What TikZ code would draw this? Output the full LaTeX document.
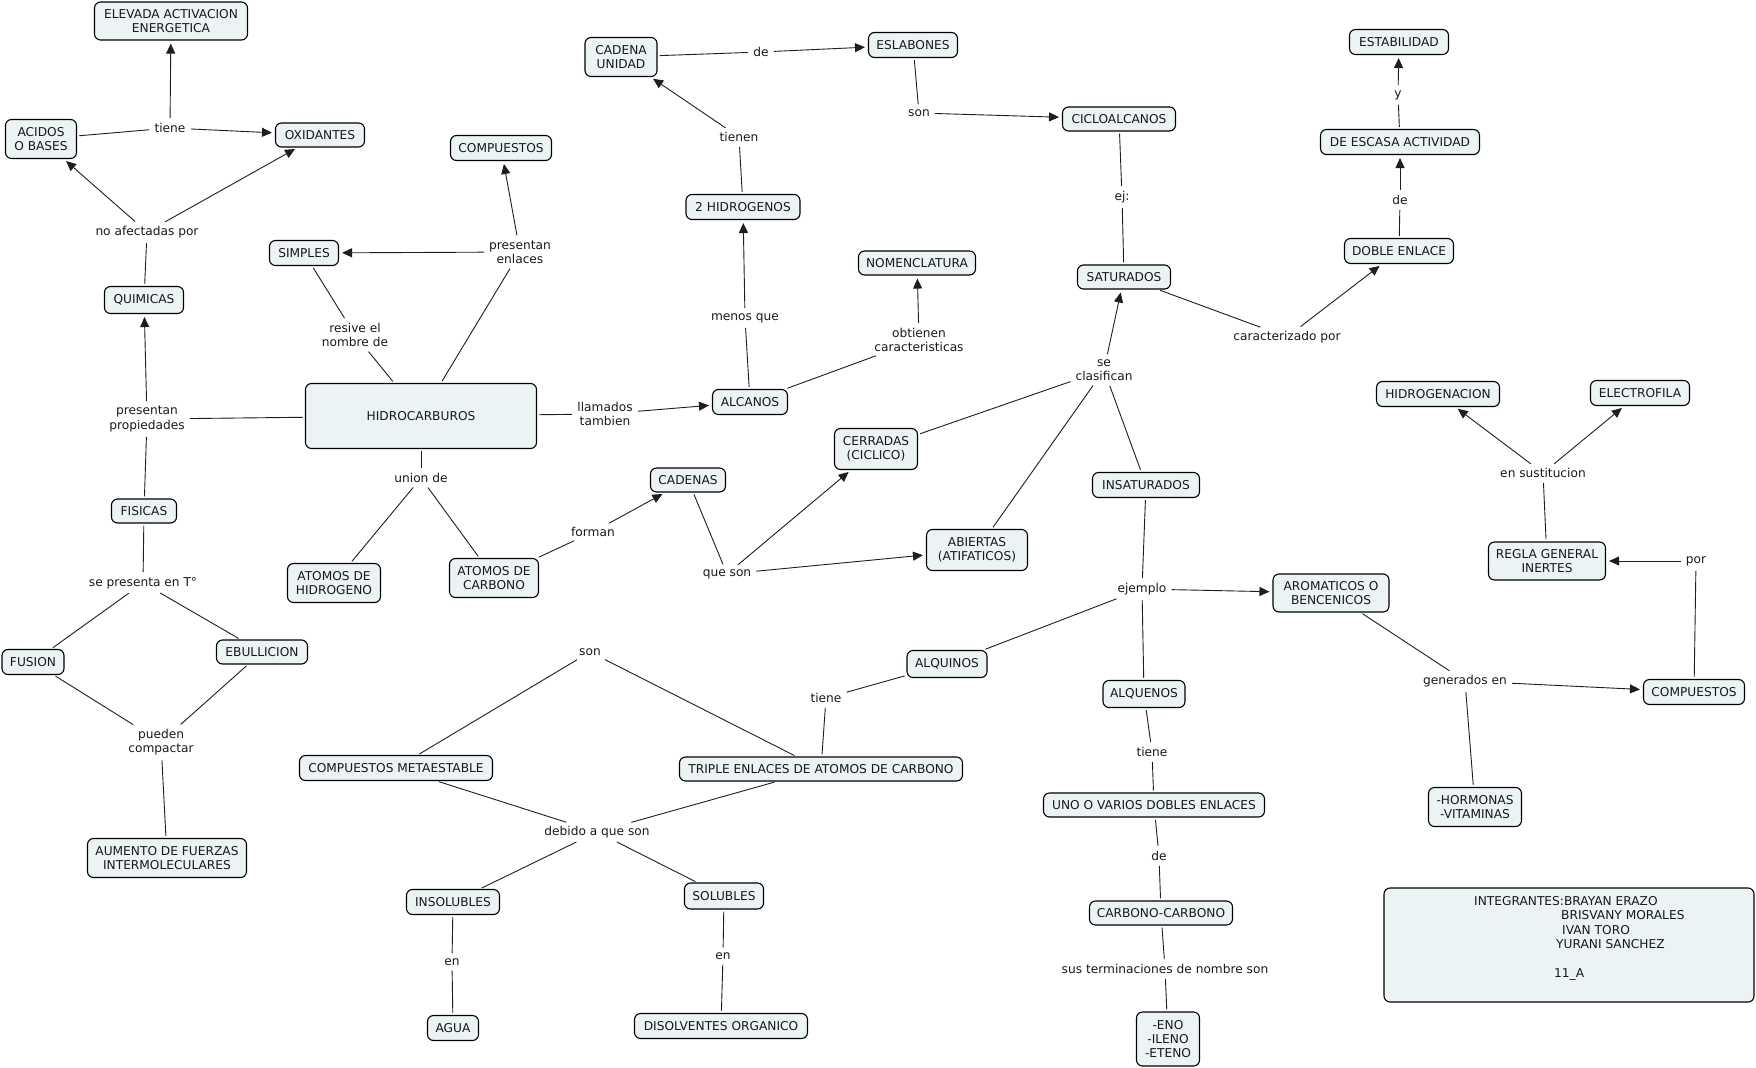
\documentclass[tikz,border=0pt]{standalone}
\usepackage{fontspec}
\setmainfont{DejaVu Sans}
\usetikzlibrary{arrows.meta}
\definecolor{cfill}{RGB}{236,243,245}
\definecolor{lnc}{RGB}{30,30,30}
\newcommand\cnode[5]{\node[cn, minimum width=#3, minimum height=#4] (#1) at #2 {#5};}
\newcommand\lnode[3]{\node[lk] (#1) at #2 {#3};}
\begin{document}
\begin{tikzpicture}[x=1pt,y=-1pt,
  every node/.style={font=\fontsize{12.2}{14.4}\selectfont, text=black!90},
  cn/.style={draw=black, fill=cfill, rounded corners=6pt, line width=1.1pt, align=center, inner sep=0pt},
  lk/.style={fill=white, align=center, inner sep=3pt},
  ln/.style={draw=lnc, line width=0.9pt, shorten <=2pt, shorten >=2pt},
  ar/.style={ln, -{Triangle[length=10pt,width=9pt]}, shorten >=3pt},
]
\useasboundingbox (0,0) rectangle (1756,1068);
\fill[white] (0,0) rectangle (1756,1068);

% concepts
\cnode{elev}{(171,21)}{153}{38}{ELEVADA ACTIVACION\\ENERGETICA}
\cnode{acid}{(41,139)}{71}{39}{ACIDOS\\O BASES}
\cnode{oxid}{(320,135)}{89}{24}{OXIDANTES}
\cnode{quim}{(144,300)}{79}{27}{QUIMICAS}
\cnode{simp}{(304,253)}{69}{25}{SIMPLES}
\cnode{compa}{(501,148)}{101}{25}{COMPUESTOS}
\cnode{cad}{(621,57)}{72}{39}{CADENA\\UNIDAD}
\cnode{esl}{(913,45)}{89}{25}{ESLABONES}
\cnode{hidb}{(743,207)}{114}{25}{2 HIDROGENOS}
\cnode{nom}{(917,263)}{117}{24}{NOMENCLATURA}
\cnode{ciclo}{(1119,119)}{113}{24}{CICLOALCANOS}
\cnode{sat}{(1124,277)}{93}{24}{SATURADOS}
\cnode{estab}{(1399,42)}{99}{25}{ESTABILIDAD}
\cnode{escasa}{(1400,142)}{159}{25}{DE ESCASA ACTIVIDAD}
\cnode{doble}{(1399,251)}{109}{25}{DOBLE ENLACE}
\cnode{hidro}{(421,416)}{231}{65}{HIDROCARBUROS}
\cnode{fis}{(144,511)}{65}{24}{FISICAS}
\cnode{atH}{(334,583)}{93}{39}{ATOMOS DE\\HIDROGENO}
\cnode{fus}{(33,662)}{62}{25}{FUSION}
\cnode{ebu}{(262,652)}{91}{24}{EBULLICION}
\cnode{alc}{(750,402)}{75}{25}{ALCANOS}
\cnode{cerr}{(876,449)}{83}{41}{CERRADAS\\(CICLICO)}
\cnode{cadenas}{(688,480)}{75}{24}{CADENAS}
\cnode{atC}{(494,578)}{89}{39}{ATOMOS DE\\CARBONO}
\cnode{insat}{(1146,485)}{107}{25}{INSATURADOS}
\cnode{abie}{(977,550)}{101}{41}{ABIERTAS\\(ATIFATICOS)}
\cnode{arom}{(1331,593)}{116}{38}{AROMATICOS O\\BENCENICOS}
\cnode{alqui}{(947,664)}{80}{27}{ALQUINOS}
\cnode{alque}{(1144,694)}{82}{27}{ALQUENOS}
\cnode{hidrog}{(1438,394)}{123}{25}{HIDROGENACION}
\cnode{elec}{(1640,393)}{99}{25}{ELECTROFILA}
\cnode{regla}{(1547,561)}{117}{38}{REGLA GENERAL\\INERTES}
\cnode{compb}{(1694,692)}{101}{25}{COMPUESTOS}
\cnode{meta}{(396,768)}{193}{25}{COMPUESTOS METAESTABLE}
\cnode{aum}{(167,858)}{159}{39}{AUMENTO DE FUERZAS\\INTERMOLECULARES}
\cnode{insol}{(453,902)}{93}{25}{INSOLUBLES}
\cnode{agua}{(453,1028)}{51}{25}{AGUA}
\cnode{triple}{(821,769)}{283}{24}{TRIPLE ENLACES DE ATOMOS DE CARBONO}
\cnode{sol}{(724,896)}{79}{26}{SOLUBLES}
\cnode{disol}{(721,1026)}{173}{25}{DISOLVENTES ORGANICO}
\cnode{uno}{(1154,805)}{221}{24}{UNO O VARIOS DOBLES ENLACES}
\cnode{cc}{(1161,913)}{143}{24}{CARBONO-CARBONO}
\cnode{eno}{(1168,1039)}{63}{54}{-ENO\\-ILENO\\-ETENO}
\cnode{horm}{(1475,807)}{93}{39}{-HORMONAS\\-VITAMINAS}
\cnode{integ}{(1569,945)}{370}{114}{}
\node[anchor=west, inner sep=0pt] (t1) at (1474,901) {INTEGRANTES:BRAYAN ERAZO};
\node[anchor=west, inner sep=0pt] (t2) at (1561,915) {BRISVANY MORALES};
\node[anchor=west, inner sep=0pt] (t3) at (1562,930) {IVAN TORO};
\node[anchor=west, inner sep=0pt] (t4) at (1556,944) {YURANI SANCHEZ};
\node[anchor=west, inner sep=0pt] (t5) at (1554,974) {11\_A};

% linking phrases
\lnode{ltiene}{(170,128)}{tiene}
\lnode{lnoaf}{(147,232)}{no afectadas por}
\lnode{lpresprop}{(147,419)}{presentan\\propiedades}
\lnode{lresive}{(355,335)}{resive el\\nombre de}
\lnode{lpresenl}{(520,252)}{presentan\\enlaces}
\lnode{lllam}{(605,414)}{llamados\\tambien}
\lnode{lunion}{(421,478)}{union de}
\lnode{lsetemp}{(143,583)}{se presenta en T°}
\lnode{lpueden}{(161,742)}{pueden\\compactar}
\lnode{lforman}{(593,532)}{forman}
\lnode{lqueson}{(727,574)}{que son}
\lnode{lmenos}{(745,318)}{menos que}
\lnode{ltienen}{(739,137)}{tienen}
\lnode{lde}{(761,52)}{de}
\lnode{lson}{(919,113)}{son}
\lnode{lej}{(1122,197)}{ej:}
\lnode{lobt}{(919,340)}{obtienen\\caracteristicas}
\lnode{lsecl}{(1104,370)}{se\\clasifican}
\lnode{lcarac}{(1287,337)}{caracterizado por}
\lnode{ldeb}{(1400,200)}{de}
\lnode{ly}{(1398,95)}{y}
\lnode{lejem}{(1142,589)}{ejemplo}
\lnode{lsonb}{(590,652)}{son}
\lnode{ltieneb}{(826,698)}{tiene}
\lnode{ldebido}{(597,832)}{debido a que son}
\lnode{lena}{(452,962)}{en}
\lnode{lenb}{(723,956)}{en}
\lnode{ltienec}{(1152,752)}{tiene}
\lnode{ldec}{(1159,856)}{de}
\lnode{lsus}{(1165,969)}{sus terminaciones de nombre son}
\lnode{lgen}{(1465,681)}{generados en}
\lnode{lpor}{(1696,561)}{por}
\lnode{lsust}{(1543,473)}{en sustitucion}

% connectors
\draw[ln] (acid) -- (ltiene);
\draw[ar] (ltiene) -- (oxid);
\draw[ar] (ltiene) -- (elev);
\draw[ln] (quim) -- (lnoaf);
\draw[ar] (lnoaf) -- (acid);
\draw[ar] (lnoaf) -- (oxid);
\draw[ln] (hidro) -- (lpresprop);
\draw[ar] (lpresprop) -- (quim);
\draw[ln] (lpresprop) -- (fis);
\draw[ln] (fis) -- (lsetemp);
\draw[ln] (lsetemp) -- (fus);
\draw[ln] (lsetemp) -- (ebu);
\draw[ln] (fus) -- (lpueden);
\draw[ln] (ebu) -- (lpueden);
\draw[ln] (lpueden) -- (aum);
\draw[ln] (hidro) -- (lresive);
\draw[ln] (lresive) -- (simp);
\draw[ln] (hidro) -- (lpresenl);
\draw[ar] (lpresenl) -- (compa);
\draw[ar] (lpresenl) -- (simp);
\draw[ln] (hidro) -- (lllam);
\draw[ar] (lllam) -- (alc);
\draw[ln] (hidro) -- (lunion);
\draw[ln] (lunion) -- (atH);
\draw[ln] (lunion) -- (atC);
\draw[ln] (atC) -- (lforman);
\draw[ar] (lforman) -- (cadenas);
\draw[ln] (cadenas) -- (lqueson);
\draw[ar] (lqueson) -- (cerr);
\draw[ar] (lqueson) -- (abie);
\draw[ln] (alc) -- (lmenos);
\draw[ar] (lmenos) -- (hidb);
\draw[ln] (hidb) -- (ltienen);
\draw[ar] (ltienen) -- (cad);
\draw[ln] (cad) -- (lde);
\draw[ar] (lde) -- (esl);
\draw[ln] (esl) -- (lson);
\draw[ar] (lson) -- (ciclo);
\draw[ln] (ciclo) -- (lej);
\draw[ln] (lej) -- (sat);
\draw[ln] (alc) -- (lobt);
\draw[ar] (lobt) -- (nom);
\draw[ln] (cerr) -- (lsecl);
\draw[ln] (abie) -- (lsecl);
\draw[ar] (lsecl) -- (sat);
\draw[ln] (lsecl) -- (insat);
\draw[ln] (sat) -- (lcarac);
\draw[ar] (lcarac) -- (doble);
\draw[ln] (doble) -- (ldeb);
\draw[ar] (ldeb) -- (escasa);
\draw[ln] (escasa) -- (ly);
\draw[ar] (ly) -- (estab);
\draw[ln] (insat) -- (lejem);
\draw[ar] (lejem) -- (arom);
\draw[ln] (lejem) -- (alqui);
\draw[ln] (lejem) -- (alque);
\draw[ln] (alqui) -- (ltieneb);
\draw[ln] (ltieneb) -- (triple);
\draw[ln] (lsonb) -- (meta);
\draw[ln] (lsonb) -- (triple);
\draw[ln] (meta) -- (ldebido);
\draw[ln] (triple) -- (ldebido);
\draw[ln] (ldebido) -- (insol);
\draw[ln] (ldebido) -- (sol);
\draw[ln] (insol) -- (lena);
\draw[ln] (lena) -- (agua);
\draw[ln] (sol) -- (lenb);
\draw[ln] (lenb) -- (disol);
\draw[ln] (alque) -- (ltienec);
\draw[ln] (ltienec) -- (uno);
\draw[ln] (uno) -- (ldec);
\draw[ln] (ldec) -- (cc);
\draw[ln] (cc) -- (lsus);
\draw[ln] (lsus) -- (eno);
\draw[ln] (arom) -- (lgen);
\draw[ar] (lgen) -- (compb);
\draw[ln] (lgen) -- (horm);
\draw[ln] (compb) -- (lpor);
\draw[ar] (lpor) -- (regla);
\draw[ln] (regla) -- (lsust);
\draw[ar] (lsust) -- (hidrog);
\draw[ar] (lsust) -- (elec);
\end{tikzpicture}
\end{document}
